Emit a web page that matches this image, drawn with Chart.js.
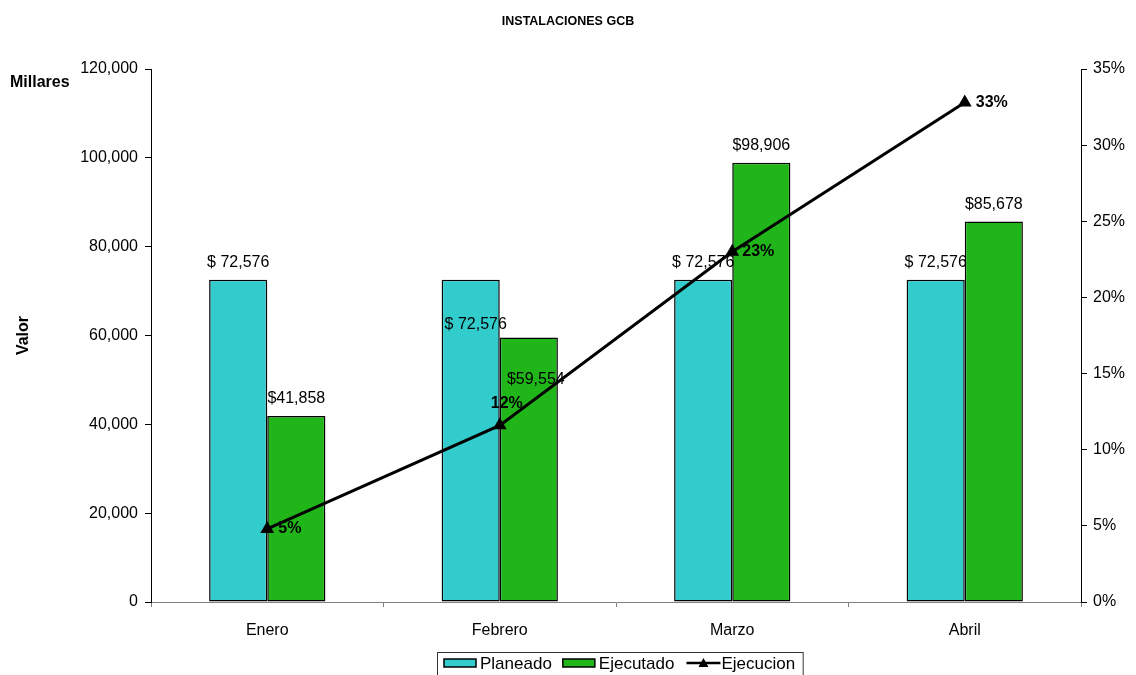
<!DOCTYPE html>
<html>
<head>
<meta charset="utf-8">
<script src="https://cdn.jsdelivr.net/npm/chart.js@4.4.1/dist/chart.umd.min.js"></script>
<style>
  html, body { margin: 0; padding: 0; background: #fff; }
  #wrap { width: 1136px; height: 675px; position: relative; }
</style>
</head>
<body>
<div id="wrap"><canvas id="c" width="1136" height="675"></canvas></div>
<script>
// ---- data ----
const categories = ['Enero', 'Febrero', 'Marzo', 'Abril'];
const planeado = [72576, 72576, 72576, 72576];
const ejecutado = [41858, 59554, 98906, 85678];
const ejecucion = [4.8, 11.6, 23.0, 32.8];            // % (right axis)
const ejecucionLabels = ['5%', '12%', '23%', '33%'];
const seriesNames = ['Planeado', 'Ejecutado', 'Ejecucion'];
const chartTitle = 'INSTALACIONES GCB';
const leftAxisTitle = 'Valor';
const unitsLabel = 'Millares';

const FONT = '"Liberation Sans", Arial, sans-serif';
Chart.defaults.font.family = FONT;
Chart.defaults.color = '#000';

const CYAN = '#33cccc';
const GREEN = '#20b519';

function fmtNum(v) { return Math.round(v).toLocaleString('en-US'); }

// label placement tweaks (style only)
const barLabelShift = {
  0: { 1: { dx: 5, dy: 62 } },
  1: { 1: { dx: 7, dy: 59 } }
};
const lineLabelPlace = [
  { dx: 11, dy: 0, align: 'left' },
  { dx: 7, dy: -22, align: 'center' },
  { dx: 10, dy: 0, align: 'left' },
  { dx: 11, dy: 0, align: 'left' }
];

const decorPlugin = {
  id: 'decor',
  afterDatasetsDraw(chart) {
    const ctx = chart.ctx;
    ctx.save();
    // bar value labels
    ctx.font = '16px ' + FONT;
    ctx.fillStyle = '#000';
    ctx.textAlign = 'center';
    ctx.textBaseline = 'middle';
    [0, 1].forEach(di => {
      const meta = chart.getDatasetMeta(di);
      const data = chart.data.datasets[di].data;
      meta.data.forEach((el, i) => {
        const sh = (barLabelShift[di] && barLabelShift[di][i]) || { dx: 0, dy: 0 };
        const txt = (di === 0 ? '$ ' : '$') + fmtNum(data[i]);
        ctx.fillText(txt, el.x + sh.dx, el.y - 17 + sh.dy);
      });
    });
    // line labels
    ctx.font = 'bold 16px ' + FONT;
    const lm = chart.getDatasetMeta(2);
    lm.data.forEach((el, i) => {
      const p = lineLabelPlace[i];
      ctx.textAlign = p.align;
      ctx.fillText(ejecucionLabels[i], el.x + p.dx, el.y + p.dy);
    });
    ctx.restore();
  },
  afterDraw(chart) {
    const ctx = chart.ctx;
    ctx.save();
    // units label
    ctx.font = 'bold 16px ' + FONT;
    ctx.fillStyle = '#000';
    ctx.textAlign = 'left';
    ctx.textBaseline = 'middle';
    ctx.fillText(unitsLabel, 10, 83);

    // legend
    const ds = chart.data.datasets;
    ctx.font = '17px ' + FONT;
    const cy = 663;
    let x = 444;
    const items = [];
    ds.forEach((d, i) => {
      const sw = 32;
      const tw = ctx.measureText(d.label).width;
      items.push({ d, i, x, sw, tw });
      x += sw + 4 + tw + 11;
    });
    const boxL = 437.5, boxR = x - 11 + 8;
    ctx.strokeStyle = '#333';
    ctx.lineWidth = 1;
    ctx.strokeRect(boxL, 652.5, boxR - boxL, 40);
    items.forEach(it => {
      const d = it.d;
      if (d.type === 'line') {
        ctx.strokeStyle = d.borderColor;
        ctx.lineWidth = 2.5;
        ctx.beginPath();
        ctx.moveTo(it.x + 1, cy);
        ctx.lineTo(it.x + it.sw + 3, cy);
        ctx.stroke();
        const tx = it.x + it.sw / 2 + 2;
        ctx.fillStyle = d.borderColor;
        ctx.beginPath();
        ctx.moveTo(tx, cy - 5);
        ctx.lineTo(tx + 5, cy + 4);
        ctx.lineTo(tx - 5, cy + 4);
        ctx.closePath();
        ctx.fill();
      } else {
        ctx.fillStyle = d.backgroundColor;
        ctx.fillRect(it.x, cy - 4, it.sw, 8);
        ctx.strokeStyle = '#000';
        ctx.lineWidth = 1.5;
        ctx.strokeRect(it.x, cy - 4, it.sw, 8);
      }
      ctx.fillStyle = '#000';
      ctx.textAlign = 'left';
      ctx.textBaseline = 'middle';
      ctx.fillText(d.label, it.x + it.sw + 4, cy + 1);
    });
    ctx.restore();
  }
};

new Chart(document.getElementById('c'), {
  data: {
    labels: categories,
    datasets: [
      {
        type: 'bar', label: seriesNames[0], data: planeado,
        backgroundColor: CYAN, borderColor: '#000', borderWidth: 1.5, borderSkipped: false,
        categoryPercentage: 0.5, barPercentage: 1.0, yAxisID: 'y', order: 1
      },
      {
        type: 'bar', label: seriesNames[1], data: ejecutado,
        backgroundColor: GREEN, borderColor: '#000', borderWidth: 1.5, borderSkipped: false,
        categoryPercentage: 0.5, barPercentage: 1.0, yAxisID: 'y', order: 1
      },
      {
        type: 'line', label: seriesNames[2], data: ejecucion,
        borderColor: '#000', backgroundColor: '#000', borderWidth: 3,
        pointStyle: 'triangle', pointRadius: 5, pointBackgroundColor: '#000', pointBorderColor: '#000',
        tension: 0, fill: false, yAxisID: 'y1', order: 0
      }
    ]
  },
  options: {
    responsive: false,
    animation: false,
    layout: { padding: 0 },
    plugins: {
      legend: { display: false },
      tooltip: { enabled: false },
      title: {
        display: true, text: chartTitle, color: '#000',
        font: { size: 12.5, weight: 'bold' },
        padding: { top: 14, bottom: 40 }
      }
    },
    scales: {
      x: {
        grid: { display: true, drawOnChartArea: false, drawTicks: true, tickLength: 5, color: '#808080', offset: true },
        border: { display: true, color: '#808080', width: 1 },
        ticks: { font: { size: 16 }, color: '#000', padding: 14, maxRotation: 0 },
        afterFit(s) { s.height = 73; }
      },
      y: {
        position: 'left', min: 0, max: 120000,
        grid: { display: true, drawOnChartArea: false, drawTicks: true, tickLength: 6, color: '#000' },
        border: { display: true, color: '#000', width: 1 },
        ticks: { stepSize: 20000, font: { size: 16 }, color: '#000', padding: 7, callback: v => fmtNum(v) },
        title: { display: true, text: leftAxisTitle, font: { size: 16, weight: 'bold' }, color: '#000', padding: { top: 14, bottom: 0 } },
        afterFit(s) { s.width = 151; }
      },
      y1: {
        position: 'right', min: 0, max: 35,
        grid: { display: true, drawOnChartArea: false, drawTicks: true, tickLength: 6, color: '#000' },
        border: { display: true, color: '#000', width: 1 },
        ticks: { stepSize: 5, font: { size: 16 }, color: '#000', padding: 6, callback: v => v + '%' },
        afterFit(s) { s.width = 55; }
      }
    }
  },
  plugins: [decorPlugin]
});
</script>
</body>
</html>
